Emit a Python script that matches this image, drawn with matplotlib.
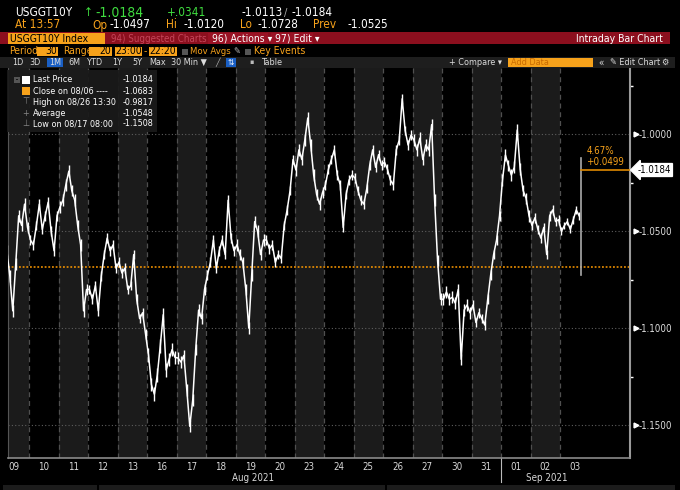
import numpy as np
import matplotlib
matplotlib.use("Agg")
import matplotlib.pyplot as plt
from matplotlib import patches, transforms

plt.rcParams['font.family'] = ['DejaVu Sans']
plt.rcParams['font.stretch'] = 'condensed'

# ---- data (USGGT10Y, 30 min bars, sampled ~10 per session) ----
day_labels = ["09", "10", "11", "12", "13", "16", "17", "18", "19", "20",
              "23", "24", "25", "26", "27", "30", "31", "01", "02", "03"]
aug09 = [-1.0600, -1.0730, -1.0910, -1.0670, -1.0420, -1.0470, -1.0360, -1.0480]
aug10 = [-1.0545, -1.0570, -1.0470, -1.0360, -1.0490, -1.0420, -1.0350, -1.0500, -1.0600, -1.0420]
aug11 = [-1.0375, -1.0340, -1.0260, -1.0190, -1.0290, -1.0340, -1.0470, -1.0570, -1.0910, -1.0800]
aug12 = [-1.0800, -1.0850, -1.0780, -1.0910, -1.0730, -1.0620, -1.0535, -1.0600, -1.0570, -1.0690]
aug13 = [-1.0660, -1.0715, -1.0690, -1.0800, -1.0780, -1.0620, -1.0850, -1.0950, -1.0920, -1.1030]
aug16 = [-1.1137, -1.1290, -1.1340, -1.1240, -1.1090, -1.0930, -1.1215, -1.1160, -1.1110, -1.1150]
aug17 = [-1.1153, -1.1174, -1.1140, -1.1318, -1.1505, -1.1370, -1.1110, -1.0906, -1.0950, -1.0800]
aug18 = [-1.0725, -1.0660, -1.0545, -1.0690, -1.0600, -1.0545, -1.0620, -1.0340, -1.0535, -1.0600]
aug19 = [-1.0570, -1.0620, -1.0660, -1.0800, -1.0999, -1.0725, -1.0450, -1.0500, -1.0620, -1.0545]
aug20 = [-1.0545, -1.0590, -1.0570, -1.0660, -1.0620, -1.0640, -1.0470, -1.0390, -1.0290, -1.0130]
aug23 = [-1.0184, -1.0080, -1.0130, -1.0030, -0.9916, -1.0055, -1.0210, -1.0310, -1.0360, -1.0300]
aug24 = [-1.0260, -1.0180, -1.0130, -1.0080, -1.0210, -1.0260, -1.0480, -1.0310, -1.0236, -1.0210]
aug25 = [-1.0225, -1.0290, -1.0340, -1.0360, -1.0280, -1.0160, -1.0080, -1.0170, -1.0105, -1.0160]
aug26 = [-1.0143, -1.0180, -1.0236, -1.0260, -1.0080, -1.0030, -0.9817, -0.9980, -1.0055, -1.0004]
aug27 = [-1.0030, -1.0080, -1.0020, -1.0130, -1.0055, -1.0080, -0.9950, -1.0340, -1.0650, -1.0850]
aug30 = [-1.0850, -1.0813, -1.0850, -1.0840, -1.0870, -1.0800, -1.1160, -1.0906, -1.0880, -1.0920]
aug31 = [-1.0880, -1.0970, -1.0920, -1.0950, -1.0983, -1.0850, -1.0725, -1.0620, -1.0545, -1.0420]
sep01 = [-1.0236, -1.0107, -1.0160, -1.0210, -1.0170, -0.9978, -1.0180, -1.0290, -1.0330, -1.0420]
sep02 = [-1.0470, -1.0430, -1.0490, -1.0535, -1.0480, -1.0620, -1.0420, -1.0390, -1.0450, -1.0440]
sep03 = [-1.0500, -1.0470, -1.0450, -1.0490, -1.0440, -1.0390, -1.0420]
sessions = [aug09, aug10, aug11, aug12, aug13, aug16, aug17, aug18, aug19, aug20,
            aug23, aug24, aug25, aug26, aug27, aug30, aug31, sep01, sep02, sep03]
# typical high-low range of a 30 min bar in each session
bar_range = [0.006, 0.005, 0.006, 0.005, 0.005, 0.007, 0.006, 0.005, 0.006, 0.005,
             0.006, 0.005, 0.005, 0.005, 0.006, 0.006, 0.005, 0.006, 0.005, 0.004]

last_price = -1.0184
prev_close = -1.0683
high_val = -0.9817
avg_val = -1.0548
low_val = -1.1508
y_ticks = [-1.0, -1.05, -1.1, -1.15]

# build time axis: one unit per session
t, v, r = [], [], []
for i, s in enumerate(sessions):
    start = 10 - len(s) if i == 0 else 0
    for k, val in enumerate(s):
        t.append(i + (start + k + 0.5) / 10)
        v.append(val)
        r.append(bar_range[i])
t, v, r = np.array(t), np.array(v), np.array(r)

W, H = 680, 490
fig = plt.figure(figsize=(W / 100, H / 100), dpi=100, facecolor="black")

def fx(x):
    return x / W

def fy(y):
    return 1 - y / H

def rect(x0, y0, x1, y1, color, z=1, alpha=1.0):
    fig.add_artist(patches.Rectangle((fx(x0), fy(y1)), (x1 - x0) / W, (y1 - y0) / H,
                                     transform=fig.transFigure, facecolor=color,
                                     edgecolor="none", zorder=z, alpha=alpha))

def txt(x, y, s, color="white", size=7.5, ha="left", **kw):
    fig.text(fx(x), fy(y), s, color=color, fontsize=size, ha=ha, va="center", **kw)

ORANGE = "#f7a21b"
GREEN = "#3fdc3f"
RED = "#8c0f1e"

# ---- header ----
txt(15, 13, "USGGT10Y", size=8.5)
txt(84, 13, "↑", color=GREEN, size=8.5)
txt(95, 13, "-1.0184", color=GREEN, size=10)
txt(167, 13, "+.0341", color=GREEN, size=8.5)
txt(242, 13, "-1.0113", size=8.5)
txt(286, 13, "/", color="#aaaaaa", size=8, ha="center")
txt(291, 13, "-1.0184", size=8.5)

txt(15, 25, "At 13:57", color=ORANGE, size=8.5)
for lab, val, x in [("Op", "-1.0497", 92), ("Hi", "-1.0120", 166), ("Lo", "-1.0728", 240), ("Prev", "-1.0525", 313)]:
    txt(x, 25, lab, color=ORANGE, size=8.5)
    txt(x + (34 if lab == "Prev" else 17), 25, val, size=8.5)

# red command bar
rect(0, 32, 670, 44.5, RED)
rect(8, 33, 105, 44, ORANGE, z=2)
txt(10, 38.5, "USGGT10Y Index", color="black", size=7.5)
txt(111, 38.5, "94) Suggested Charts", color="#c4465a", size=7)
rect(208, 33, 268, 44, "#9a1224", z=2)
txt(212, 38.5, "96) Actions ▾", size=7.5)
rect(271, 33, 313, 44, "#9a1224", z=2)
txt(275, 38.5, "97) Edit ▾", size=7.5)
txt(663, 38.5, "Intraday Bar Chart", size=7.5, ha="right")

# period row
txt(9, 51.5, "Period", color=ORANGE, size=7.5)
rect(37, 47, 58, 56, ORANGE, z=2)
txt(57, 51.5, "30", color="black", size=7.5, ha="right")
txt(63, 51.5, "Range", color=ORANGE, size=7.5)
rect(89, 47, 112, 56, ORANGE, z=2)
txt(111, 51.5, "20", color="black", size=7.5, ha="right")
rect(115, 47, 142, 56, ORANGE, z=2)
txt(128.5, 51.5, "23:00", color="black", size=7.5, ha="center")
txt(145.5, 51.5, "-", color=ORANGE, size=7.5, ha="center")
rect(149, 47, 177, 56, ORANGE, z=2)
txt(163, 51.5, "22:20", color="black", size=7.5, ha="center")
rect(182, 49, 188, 55, "#555555", z=2)
txt(190, 51.5, "Mov Avgs", color=ORANGE, size=6.8)
txt(237, 51.5, "✎", color="#bbbbbb", size=6.5, ha="center")
rect(245, 49, 251, 55, "#555555", z=2)
txt(254, 51.5, "Key Events", color=ORANGE, size=7.5)

# toolbar row
rect(0, 57, 675, 68, "#1e1e1e")
rect(47, 58, 63, 67, "#1a5fc4", z=2)
rect(226, 58, 236, 67, "#1a5fc4", z=2)
rect(508, 58, 593, 67, ORANGE, z=2)
for lab, x in [("1D", 18), ("3D", 35), ("1M", 55), ("6M", 74), ("YTD", 95), ("1Y", 117),
               ("5Y", 137), ("Max", 158), ("30 Min ▼", 189), ("Table", 272)]:
    txt(x, 62.5, lab, color="#dddddd", size=6.5, ha="center")
txt(218, 62.5, "╱", color="#bbbbbb", size=6, ha="center")
txt(231, 62.5, "⇅", color="white", size=6, ha="center")
txt(251, 62.5, "▪", color="#bbbbbb", size=5, ha="center")
txt(476, 62.5, "+ Compare ▾", color="#dddddd", size=6.5, ha="center")
txt(511, 62.5, "Add Data", color="#c86a00", size=6.5)
txt(601, 62.5, "«", color="#dddddd", size=7, ha="center")
txt(610, 62.5, "✎ Edit Chart", color="#dddddd", size=6.5)
txt(665, 62.5, "⚙", color="#dddddd", size=6.5, ha="center")

# ---- main chart ----
ax = fig.add_axes([fx(8), fy(458), (630 - 8) / W, (458 - 68) / H])
ax.set_facecolor("black")
ax.set_xlim(8.5 / 29.5, 630.5 / 29.5)
ax.set_ylim(-1.16686, -0.96582)

for i in range(len(sessions)):
    if i % 2 == 0:
        ax.axvspan(i, i + 1, color="#1b1b1b", lw=0, zorder=0)
    if i > 0:
        ax.axvline(i, color="#4f4f4f", lw=0.9, ls=(0, (4, 3)), zorder=1)

for yv in y_ticks:
    ax.axhline(yv, color="#5e5e5e", lw=0.8, ls=(0, (1, 2)), zorder=1)
ax.axhline(prev_close, color="#ff9a00", lw=1.1, ls=(0, (1.2, 1.2)), zorder=2)

# price path with high-low bars
ax.vlines(t, v - r / 2, v + r / 2, color="white", lw=1.0, zorder=3)
ax.plot(t, v, color="white", lw=1.1, zorder=3)

# change marker from previous close to last price
t_end = t[-1] + 0.05
ax.plot([t_end, t_end], [prev_close - 0.004, last_price + 0.006], color="#aaaaaa", lw=1.2, zorder=3)
ax.plot([t_end, ax.get_xlim()[1]], [last_price, last_price], color="#e08a00", lw=1.2, zorder=3)
ax.annotate("4.67%\n+0.0499", xy=(t_end, last_price), xytext=(4, 2), textcoords="offset points",
            color=ORANGE, fontsize=7, va="bottom", ha="left", linespacing=1.1)

# axes styling
ax.spines["top"].set_visible(False)
ax.spines["right"].set_color("#9a9a9a")
ax.spines["right"].set_linewidth(1.5)
ax.spines["bottom"].set_color("#8a8a8a")
ax.spines["bottom"].set_linewidth(1.2)
ax.spines["left"].set_color("#555555")

ax.yaxis.tick_right()
ax.set_yticks(y_ticks)
ax.set_yticklabels(["%.4f" % y for y in y_ticks])
ax.set_yticks([-0.975, -1.025, -1.075, -1.125], minor=True)
ax.tick_params(axis="y", which="major", length=0, pad=6, labelsize=7, labelcolor="#dcdcdc")
ax.tick_params(axis="y", which="minor", length=2.5, width=1, color="white", direction="out")

ax.set_xticks(np.arange(len(day_labels)) + 0.5)
ax.set_xticklabels(day_labels)
ax.tick_params(axis="x", length=0, pad=3, labelsize=7, labelcolor="#d8d8d8")

axis_tr = transforms.blended_transform_factory(ax.transAxes, ax.transData)
ax.plot([1.009] * len(y_ticks), y_ticks, ls="none", marker=">", ms=3.5, color="white",
        transform=axis_tr, clip_on=False)

# last price tag
ax.text(1.012, last_price, "-1.0184", transform=axis_tr, color="black", fontsize=7,
        va="center", ha="left",
        bbox=dict(boxstyle="larrow,pad=0.15", fc="white", ec="white"), clip_on=False)

# month labels & divider
month_tr = transforms.blended_transform_factory(ax.transData, ax.transAxes)
ax.plot([17, 17], [0, -0.062], color="#bbbbbb", lw=0.8, transform=month_tr, clip_on=False)
ax.text(8.6, -0.051, "Aug 2021", transform=month_tr, color="#d8d8d8", fontsize=7, ha="center", va="center")
ax.text(18.55, -0.051, "Sep 2021", transform=month_tr, color="#d8d8d8", fontsize=7, ha="center", va="center")

# bottom strip
rect(3, 485, 97, 490, "#1c1c1c")
rect(99, 485, 385, 490, "#1c1c1c")
rect(387, 485, 675, 490, "#1c1c1c")

# ---- legend box ----
rect(7, 70, 157, 132, "#1a1a1a", z=4, alpha=0.93)
legend_rows = [("Last Price", "%.4f" % last_price, 80),
               ("Close on 08/06 ----", "%.4f" % prev_close, 91),
               ("High on 08/26 13:30", "%.4f" % high_val, 102),
               ("Average", "%.4f" % avg_val, 113),
               ("Low on 08/17 08:00", "%.4f" % low_val, 124)]
for lab, val, y in legend_rows:
    fig.text(fx(33), fy(y), lab, color="white", fontsize=6.5, va="center", zorder=5)
    fig.text(fx(153), fy(y), val, color="white", fontsize=6.5, va="center", ha="right", zorder=5)
rect(22, 76, 30, 84, "white", z=5)
rect(22, 87, 30, 95, ORANGE, z=5)
rect(14, 77, 20, 83, "#555555", z=5)
rect(16, 79.5, 18, 80.5, "#1a1a1a", z=6)
rect(16.5, 84, 17.3, 124, "#555555", z=5)
for y in [91, 102, 113, 124]:
    rect(17, y - 0.4, 21, y + 0.4, "#555555", z=5)
for s, y in [("⊤", 102), ("+", 113), ("⊥", 124)]:
    fig.text(fx(25.5), fy(y), s, color="#888888", fontsize=6.5, va="center", ha="center", zorder=5)

fig.savefig("out.png", dpi=100, facecolor="black")
